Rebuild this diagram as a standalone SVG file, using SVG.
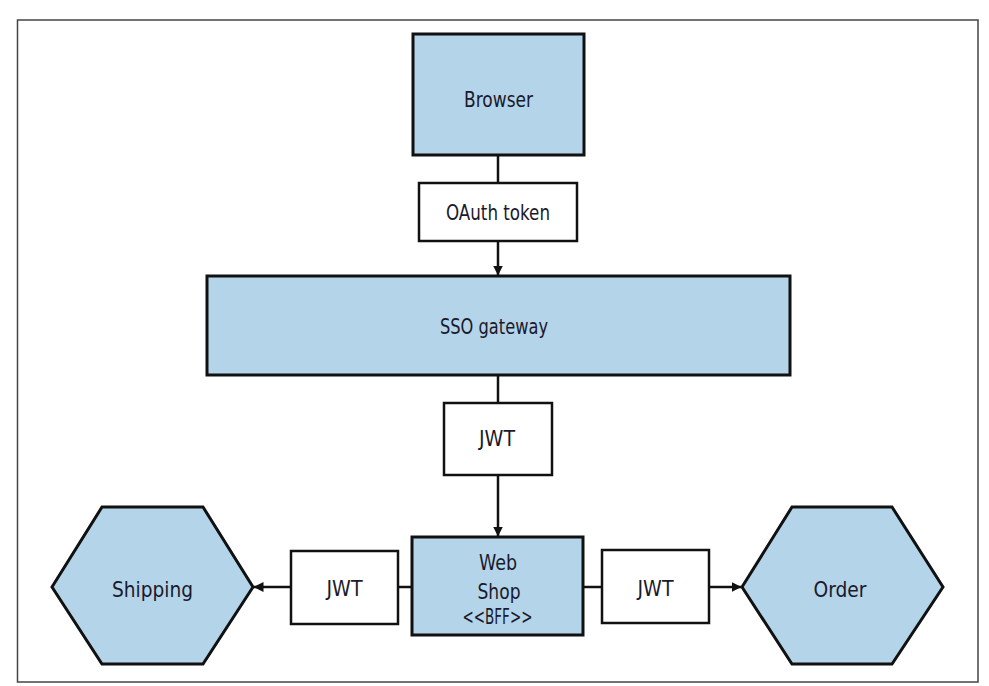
<svg xmlns="http://www.w3.org/2000/svg" width="989" height="686" viewBox="0 0 989 686">
<defs>
<style>
.node{fill:#b4d4ea;stroke:#111;stroke-width:3}
.label{fill:#fff;stroke:#111;stroke-width:2.5}
.edge{stroke:#111;stroke-width:2.5;fill:none}
text{font-family:"DejaVu Sans Condensed","Liberation Sans Narrow","Roboto",sans-serif;font-stretch:condensed;font-size:22px;fill:#1a1a2a;text-anchor:middle}
</style>
<marker id="arr" viewBox="0 0 10 10" refX="9.5" refY="5" markerWidth="10" markerHeight="10" markerUnits="userSpaceOnUse" orient="auto">
<path d="M0,0 L10,5 L0,10 Z" fill="#111"/>
</marker>
</defs>
<rect x="0" y="0" width="989" height="686" fill="#fff"/>
<rect id="frame" x="17.5" y="20" width="960.5" height="662" fill="none" stroke="#444" stroke-width="1.5"/>
<g id="connectors">
<line class="edge" x1="498" y1="155" x2="498" y2="183"/>
<line class="edge" x1="498" y1="241" x2="498" y2="275" marker-end="url(#arr)"/>
<line class="edge" x1="498" y1="375" x2="498" y2="403"/>
<line class="edge" x1="498" y1="475" x2="498" y2="536" marker-end="url(#arr)"/>
<line class="edge" x1="412" y1="587" x2="398" y2="587"/>
<line class="edge" x1="291" y1="587" x2="254" y2="587" marker-end="url(#arr)"/>
<line class="edge" x1="583" y1="587" x2="602" y2="587"/>
<line class="edge" x1="709" y1="587" x2="741" y2="587" marker-end="url(#arr)"/>
</g>
<g id="browser">
<rect class="node" x="413" y="34" width="171" height="121"/>
<text x="498.5" y="107" textLength="69" lengthAdjust="spacingAndGlyphs">Browser</text>
</g>
<g id="oauth-token">
<rect class="label" x="419" y="183" width="158" height="58"/>
<text x="498" y="220" textLength="104" lengthAdjust="spacingAndGlyphs">OAuth token</text>
</g>
<g id="sso-gateway">
<rect class="node" x="207" y="276" width="583" height="99"/>
<text x="494" y="334" textLength="108" lengthAdjust="spacingAndGlyphs">SSO gateway</text>
</g>
<g id="jwt-gateway">
<rect class="label" x="444" y="403" width="108" height="72"/>
<text x="497" y="446" textLength="36" lengthAdjust="spacingAndGlyphs">JWT</text>
</g>
<g id="web-shop">
<rect class="node" x="412" y="537" width="171" height="98"/>
<text x="498" y="570" textLength="38" lengthAdjust="spacingAndGlyphs">Web</text>
<text x="499" y="599" textLength="43" lengthAdjust="spacingAndGlyphs">Shop</text>
<text x="497.5" y="624" textLength="70" lengthAdjust="spacingAndGlyphs">&lt;&lt;BFF&gt;&gt;</text>
</g>
<g id="jwt-shipping">
<rect class="label" x="291" y="551" width="107" height="73"/>
<text x="344.5" y="596" textLength="36" lengthAdjust="spacingAndGlyphs">JWT</text>
</g>
<g id="jwt-order">
<rect class="label" x="602" y="550" width="107" height="73"/>
<text x="655.5" y="596" textLength="36" lengthAdjust="spacingAndGlyphs">JWT</text>
</g>
<g id="shipping">
<polygon class="node" points="52,587 102,507 203,507 253,587 203,664 102,664"/>
<text x="152.5" y="597" textLength="81" lengthAdjust="spacingAndGlyphs">Shipping</text>
</g>
<g id="order">
<polygon class="node" points="742,587 792,507 892,507 943,587 892,664 792,664"/>
<text x="840" y="597" textLength="53" lengthAdjust="spacingAndGlyphs">Order</text>
</g>
</svg>
